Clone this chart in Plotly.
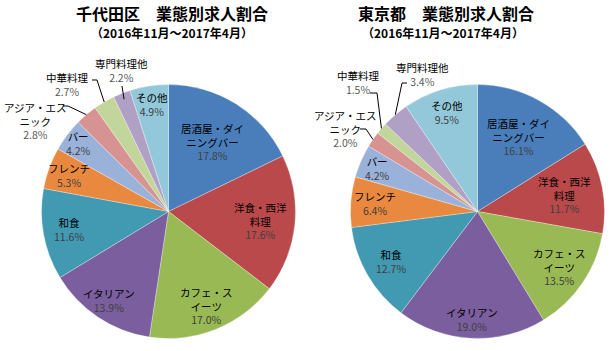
import math
import plotly.graph_objects as go

# ---------------- data ----------------
categories = ["居酒屋・ダイニングバー", "洋食・西洋料理", "カフェ・スイーツ", "イタリアン", "和食",
              "フレンチ", "バー", "アジア・エスニック", "中華料理", "専門料理他", "その他"]
chiyoda_values = [17.8, 17.6, 17.0, 13.9, 11.6, 5.3, 4.2, 2.8, 2.7, 2.2, 4.9]
tokyo_values = [16.1, 11.7, 13.5, 19.0, 12.7, 6.4, 4.2, 2.0, 1.5, 3.4, 9.5]
titles = ["千代田区　業態別求人割合", "東京都　業態別求人割合"]
subtitle = "（2016年11月～2017年4月）"

# ---------------- styles ----------------
W, H = 615, 351
colors = ["#4A7EBB", "#B9494A", "#98B954", "#7B5E9E", "#4299B2", "#E8893F",
          "#9AB2D9", "#D79391", "#C2D59A", "#B1A0C6", "#93C8DA"]
wrap = {"居酒屋・ダイニングバー": "居酒屋・ダイ<br>ニングバー",
        "洋食・西洋料理": "洋食・西洋<br>料理",
        "カフェ・スイーツ": "カフェ・ス<br>イーツ",
        "アジア・エスニック": "アジア・エス<br>ニック"}
FONT = "Noto Sans CJK JP"
R = 127
pies = [
    dict(values=chiyoda_values, cx=168.5, cy=211.5, title_x=172, sub_x=172,
         rf=[0.65, 0.73, 0.80, 0.84, 0.80, 0.83, 0.89, None, None, None, 0.85],
         outside={7: (35, 121), 8: (67, 84), 9: (121, 70)},
         leaders={7: [(63, 106), (68, 106)], 8: [(92, 80), (97, 80)], 9: [(122, 86)]},
         leader_r={7: 1.0, 8: 1.0, 9: 0.95}),
    dict(values=tokyo_values, cx=477.5, cy=211.5, title_x=446, sub_x=443,
         rf=[0.67, 0.70, 0.78, 0.855, 0.79, 0.81, 0.86, None, None, None, 0.815],
         outside={7: (345, 129), 8: (358, 82), 9: (422, 74)},
         leaders={7: [(360, 129), (366, 129)], 8: [(370, 93), (377, 93)], 9: [(407, 83), (402, 83)]},
         leader_r={7: 1.0, 8: 1.0, 9: 1.0}),
]


def px(x, y):
    return x / W, 1 - y / H


fig = go.Figure()
annotations = []
shapes = []

for i, p in enumerate(pies):
    vals = p["values"]
    cx, cy = p["cx"], p["cy"]
    x0, y0 = px(cx - R, cy + R)
    x1, y1 = px(cx + R, cy - R)
    fig.add_trace(go.Pie(
        labels=categories, values=vals, sort=False, direction="clockwise", rotation=0,
        marker=dict(colors=colors, line=dict(color="rgba(255,255,255,0.5)", width=0.6)),
        textinfo="none", hoverinfo="label+percent", showlegend=False,
        domain=dict(x=[x0, x1], y=[y0, y1]),
    ))
    total = sum(vals)
    cum = 0.0
    for k, v in enumerate(vals):
        mid = (cum + v / 2) / total * 2 * math.pi
        cum += v
        name = wrap.get(categories[k], categories[k])
        txt = f"<span style='color:#000000'>{name}</span><br><span style='color:#404040'>{v:.1f}%</span>"
        if p["rf"][k] is not None:
            rr = p["rf"][k] * R
            lx = cx + rr * math.sin(mid)
            ly = cy - rr * math.cos(mid)
        else:
            lx, ly = p["outside"][k]
            txt = f"<span style='color:#000000'>{name}</span><br><span style='color:#595959'>{v:.1f}%</span>"
            er = p["leader_r"][k] * R
            ex = cx + er * math.sin(mid)
            ey = cy - er * math.cos(mid)
            pts = p["leaders"][k] + [(ex, ey)]
            path = "M " + " L ".join(f"{px(a, b)[0]:.5f},{px(a, b)[1]:.5f}" for a, b in pts)
            shapes.append(dict(type="path", xref="paper", yref="paper", path=path,
                               line=dict(color="#000000", width=1)))
        ax, ay = px(lx, ly)
        annotations.append(dict(x=ax, y=ay, xref="paper", yref="paper", text=txt,
                                showarrow=False, align="center", xanchor="center", yanchor="middle",
                                font=dict(family=FONT, size=10.5, color="#000000")))
    tx, ty = px(p["title_x"], 13)
    annotations.append(dict(x=tx, y=ty, xref="paper", yref="paper", text=f"<b>{titles[i]}</b>",
                            showarrow=False, xanchor="center", yanchor="middle",
                            font=dict(family=FONT, size=16, color="#000000")))
    sx, sy = px(p["sub_x"], 32)
    annotations.append(dict(x=sx, y=sy, xref="paper", yref="paper", text=f"<b>{subtitle}</b>",
                            showarrow=False, xanchor="center", yanchor="middle",
                            font=dict(family=FONT, size=12, color="#000000")))

fig.update_layout(width=W, height=H, margin=dict(l=0, r=0, t=0, b=0),
                  paper_bgcolor="#FFFFFF", plot_bgcolor="#FFFFFF",
                  annotations=annotations, shapes=shapes,
                  font=dict(family=FONT))
fig.write_html("out.html")
